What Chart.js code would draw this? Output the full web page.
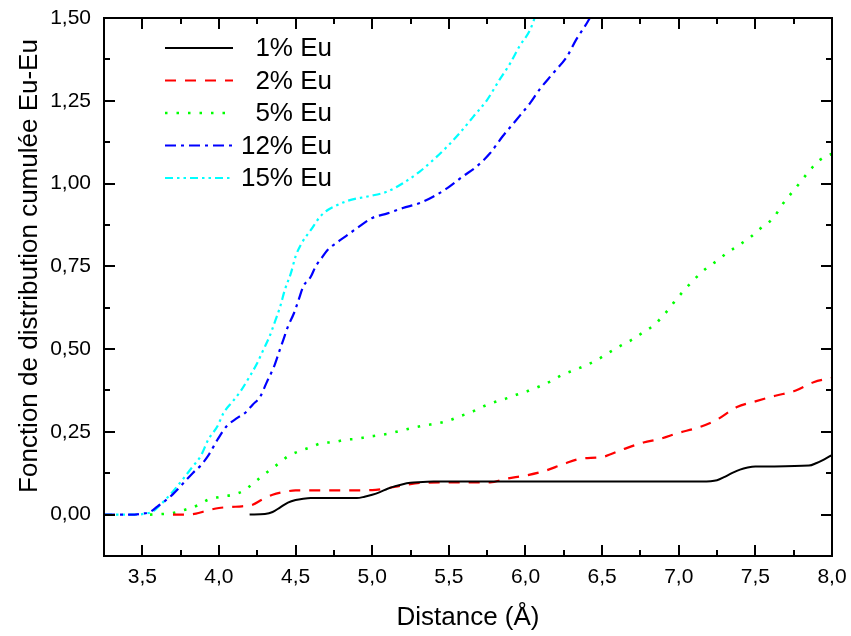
<!DOCTYPE html>
<html>
<head>
<meta charset="utf-8">
<script src="https://cdn.jsdelivr.net/npm/chart.js@4/dist/chart.umd.min.js"></script>
<style>
  body { margin: 0; background: #fff; }
  canvas { display: block; }
</style>
</head>
<body>
<canvas id="cdfChart" width="851" height="636"></canvas>
<script>
// distances (Å) and cumulated Eu-Eu distribution
const dist1 = [4.2, 4.3, 4.35, 4.4, 4.45, 4.5, 4.55, 4.6, 4.9, 4.95, 5.0, 5.05, 5.1, 5.15, 5.2, 5.25, 5.3, 5.4, 7.15, 7.25, 7.3, 7.35, 7.4, 7.45, 7.5, 7.85, 7.9, 7.95, 8.0];
const cdf1 = [0, 0.002, 0.008, 0.022, 0.036, 0.044, 0.048, 0.05, 0.05, 0.054, 0.06, 0.068, 0.078, 0.086, 0.092, 0.096, 0.098, 0.1, 0.1, 0.104, 0.114, 0.126, 0.136, 0.142, 0.145, 0.148, 0.156, 0.167, 0.18];

const dist2 = [3.7, 3.78, 3.85, 3.92, 4.0, 4.08, 4.15, 4.22, 4.28, 4.35, 4.42, 4.5, 4.75, 5.0, 5.08, 5.2, 5.33, 5.5, 5.77, 5.87, 6.0, 6.12, 6.25, 6.36, 6.5, 6.63, 6.77, 6.88, 7.0, 7.12, 7.25, 7.38, 7.5, 7.63, 7.76, 7.88, 8.0];
const cdf2 = [0, 0, 0.003, 0.012, 0.02, 0.023, 0.025, 0.03, 0.045, 0.06, 0.068, 0.073, 0.073, 0.074, 0.078, 0.088, 0.096, 0.097, 0.097, 0.108, 0.118, 0.131, 0.153, 0.169, 0.174, 0.196, 0.218, 0.229, 0.247, 0.262, 0.287, 0.325, 0.342, 0.359, 0.374, 0.4, 0.413];

const dist5 = [3.55, 3.7, 3.78, 3.86, 3.93, 4.0, 4.09, 4.16, 4.22, 4.3, 4.38, 4.45, 4.52, 4.6, 4.67, 4.75, 4.82, 4.9, 4.97, 5.05, 5.13, 5.2, 5.28, 5.35, 5.42, 5.5, 5.57, 5.65, 5.72, 5.8, 5.87, 5.94, 6.02, 6.09, 6.17, 6.24, 6.32, 6.39, 6.47, 6.54, 6.61, 6.69, 6.76, 6.84, 6.91, 6.97, 7.03, 7.1, 7.17, 7.25, 7.32, 7.39, 7.47, 7.54, 7.62, 7.67, 7.73, 7.79, 7.85, 7.92, 8.0];
const cdf5 = [0, 0.005, 0.015, 0.028, 0.045, 0.053, 0.06, 0.072, 0.093, 0.123, 0.151, 0.176, 0.191, 0.204, 0.216, 0.219, 0.226, 0.229, 0.235, 0.24, 0.247, 0.255, 0.264, 0.27, 0.275, 0.284, 0.297, 0.31, 0.326, 0.34, 0.35, 0.362, 0.374, 0.387, 0.404, 0.422, 0.437, 0.45, 0.468, 0.488, 0.507, 0.527, 0.548, 0.573, 0.607, 0.642, 0.675, 0.71, 0.74, 0.767, 0.792, 0.813, 0.839, 0.867, 0.897, 0.933, 0.968, 1.002, 1.037, 1.071, 1.09];

const dist12 = [3.25, 3.45, 3.5, 3.55, 3.6, 3.65, 3.7, 3.77, 3.83, 3.88, 3.93, 3.99, 4.05, 4.12, 4.17, 4.22, 4.27, 4.31, 4.36, 4.39, 4.42, 4.45, 4.49, 4.52, 4.55, 4.6, 4.63, 4.67, 4.71, 4.77, 4.84, 4.9, 5.0, 5.1, 5.2, 5.31, 5.4, 5.49, 5.59, 5.68, 5.77, 5.85, 5.94, 6.03, 6.09, 6.18, 6.27, 6.33, 6.4, 6.42];
const cdf12 = [0, 0, 0.003, 0.008, 0.025, 0.042, 0.062, 0.096, 0.126, 0.148, 0.178, 0.226, 0.267, 0.292, 0.307, 0.332, 0.357, 0.398, 0.448, 0.488, 0.528, 0.568, 0.609, 0.649, 0.689, 0.719, 0.749, 0.775, 0.8, 0.822, 0.845, 0.865, 0.896, 0.91, 0.926, 0.941, 0.961, 0.986, 1.021, 1.051, 1.092, 1.142, 1.192, 1.243, 1.283, 1.333, 1.383, 1.434, 1.484, 1.5];

const dist15 = [3.25, 3.45, 3.52, 3.57, 3.64, 3.7, 3.77, 3.83, 3.88, 3.93, 3.99, 4.03, 4.09, 4.14, 4.2, 4.25, 4.29, 4.33, 4.37, 4.4, 4.43, 4.47, 4.5, 4.54, 4.6, 4.66, 4.71, 4.75, 4.84, 4.97, 5.1, 5.2, 5.31, 5.4, 5.49, 5.57, 5.66, 5.75, 5.83, 5.9, 5.96, 6.03, 6.06];
const cdf15 = [0, 0, 0.003, 0.01, 0.04, 0.07, 0.11, 0.146, 0.176, 0.226, 0.267, 0.307, 0.342, 0.372, 0.417, 0.458, 0.498, 0.538, 0.589, 0.629, 0.679, 0.73, 0.78, 0.82, 0.86, 0.9, 0.92, 0.93, 0.948, 0.961, 0.976, 1.001, 1.036, 1.072, 1.112, 1.152, 1.202, 1.253, 1.313, 1.363, 1.414, 1.464, 1.5];

const seriesNames = ["1% Eu", "2% Eu", "5% Eu", "12% Eu", "15% Eu"];

// axis ticks
const xMajor = [3.5, 4.0, 4.5, 5.0, 5.5, 6.0, 6.5, 7.0, 7.5, 8.0];
const xMinor = [3.25, 3.75, 4.25, 4.75, 5.25, 5.75, 6.25, 6.75, 7.25, 7.75];
const yMajor = [0, 0.25, 0.5, 0.75, 1.0, 1.25, 1.5];
const yMinor = [-0.125, 0.125, 0.375, 0.625, 0.875, 1.125, 1.375];

const FONT = "'Liberation Sans', Arial, sans-serif";

function toPoints(xs, ys) {
  return xs.map((x, i) => ({ x: x, y: ys[i] }));
}

function comma(v, d) {
  return v.toFixed(d).replace(".", ",");
}

const styles = [
  { color: "#000000", dash: [], width: 2 },
  { color: "#ff0000", dash: [11, 9], width: 2.2 },
  { color: "#00ff00", dash: [2.5, 9], width: 2.6 },
  { color: "#0000ff", dash: [11, 5, 3, 5], width: 2.2 },
  { color: "#00ffff", dash: [8, 4, 2.5, 4, 2.5, 4], width: 2.2 },
];

const allDist = [dist1, dist2, dist5, dist12, dist15];
const allCdf = [cdf1, cdf2, cdf5, cdf12, cdf15];

const datasets = seriesNames.map((name, i) => ({
  label: name,
  data: toPoints(allDist[i], allCdf[i]),
  borderColor: styles[i].color,
  borderDash: styles[i].dash,
  borderWidth: styles[i].width,
  pointRadius: 0,
  fill: false,
  cubicInterpolationMode: "monotone",
}));

// frame + inward ticks on all four sides
const frameTicks = {
  id: "frameTicks",
  afterDatasetsDraw(chart) {
    const { ctx, chartArea: a, scales } = chart;
    const x = scales.x, y = scales.y;
    ctx.save();
    ctx.strokeStyle = "#000";
    ctx.lineWidth = 2;
    ctx.beginPath();
    const xt = (vals, len) => vals.forEach((v) => {
      const p = Math.round(x.getPixelForValue(v));
      ctx.moveTo(p, a.bottom); ctx.lineTo(p, a.bottom - len);
      ctx.moveTo(p, a.top); ctx.lineTo(p, a.top + len);
    });
    const yt = (vals, len) => vals.forEach((v) => {
      const p = Math.round(y.getPixelForValue(v));
      ctx.moveTo(a.left, p); ctx.lineTo(a.left + len, p);
      ctx.moveTo(a.right, p); ctx.lineTo(a.right - len, p);
    });
    xt(xMajor, 11); xt(xMinor, 6);
    yt(yMajor, 11); yt(yMinor, 6);
    ctx.stroke();
    ctx.strokeRect(a.left, a.top, a.right - a.left, a.bottom - a.top);
    ctx.restore();
  },
};

// legend drawn inside the plot, top left
const innerLegend = {
  id: "innerLegend",
  afterDraw(chart) {
    const { ctx } = chart;
    ctx.save();
    ctx.font = "26px " + FONT;
    ctx.textAlign = "right";
    ctx.textBaseline = "middle";
    chart.data.datasets.forEach((ds, i) => {
      const yy = 48 + i * 32.5;
      ctx.strokeStyle = ds.borderColor;
      ctx.lineWidth = ds.borderWidth;
      ctx.setLineDash(ds.borderDash);
      ctx.beginPath();
      ctx.moveTo(165, yy);
      ctx.lineTo(233, yy);
      ctx.stroke();
      ctx.setLineDash([]);
      ctx.fillStyle = "#000";
      ctx.fillText(ds.label, 332, yy + 1);
    });
    ctx.restore();
  },
};

// y title, a bit above the plot centre like the original
const yTitle = {
  id: "yTitle",
  afterDraw(chart) {
    const { ctx } = chart;
    ctx.save();
    ctx.translate(30, 266);
    ctx.rotate(-Math.PI / 2);
    ctx.font = "26px " + FONT;
    ctx.fillStyle = "#000";
    ctx.textAlign = "center";
    ctx.textBaseline = "middle";
    ctx.fillText("Fonction de distribution cumulée Eu-Eu", 0, 0);
    ctx.restore();
  },
};

const ctx = document.getElementById("cdfChart").getContext("2d");

new Chart(ctx, {
  type: "line",
  data: { datasets: datasets },
  options: {
    responsive: false,
    animation: false,
    layout: { padding: { top: 18, right: 19, left: 0, bottom: 0 } },
    plugins: {
      legend: { display: false },
      tooltip: { enabled: false },
    },
    scales: {
      x: {
        type: "linear",
        min: 3.25,
        max: 8.0,
        afterBuildTicks: (s) => { s.ticks = xMajor.map((v) => ({ value: v })); },
        afterFit: (s) => { s.height = 80; s.paddingLeft = 0; s.paddingRight = 0; },
        grid: { display: false, drawTicks: false },
        border: { display: false },
        ticks: {
          padding: 9,
          color: "#000",
          font: { family: FONT, size: 21 },
          callback: (v) => comma(v, 1),
        },
        title: {
          display: true,
          text: "Distance (Å)",
          color: "#000",
          font: { family: FONT, size: 26 },
          padding: { top: 0, bottom: 3 },
        },
      },
      y: {
        type: "linear",
        min: -0.125,
        max: 1.5,
        afterBuildTicks: (s) => { s.ticks = yMajor.map((v) => ({ value: v })); },
        afterFit: (s) => { s.width = 104; s.paddingTop = 0; s.paddingBottom = 0; },
        grid: { display: false, drawTicks: false },
        border: { display: false },
        ticks: {
          padding: 13,
          color: "#000",
          font: { family: FONT, size: 21 },
          callback: (v) => comma(v, 2),
        },
      },
    },
  },
  plugins: [frameTicks, innerLegend, yTitle],
});
</script>
</body>
</html>
